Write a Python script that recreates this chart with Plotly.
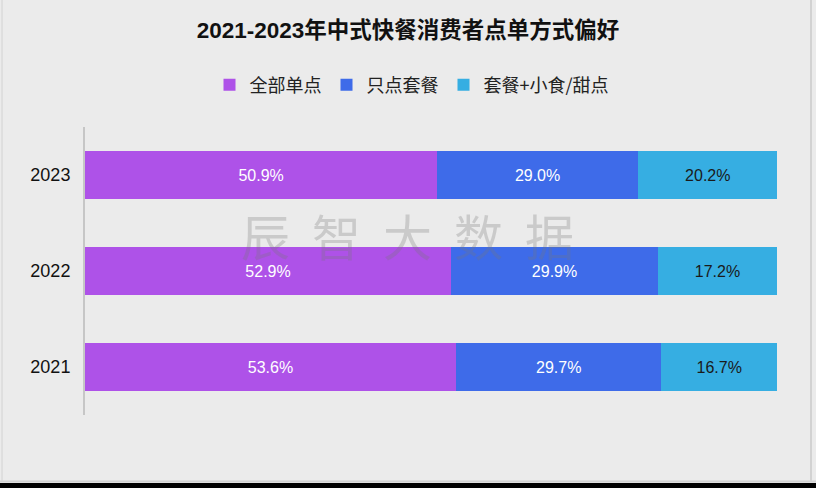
import plotly.graph_objects as go

years = ["2021", "2022", "2023"]
series_names = ["全部单点", "只点套餐", "套餐+小食/甜点"]
all_single = [53.6, 52.9, 50.9]
set_only = [29.7, 29.9, 29.0]
set_plus = [16.7, 17.2, 20.2]
colors = ["#ae52e8", "#3e6be9", "#36aee2"]
text_colors = ["#ffffff", "#ffffff", "#1a1a1a"]
watermark_chars = ["辰", "智", "大", "数", "据"]

W, H = 816, 488
L, R, T, B = 85, 39, 127, 73
ph = float(H - T - B)
pw = float(W - L - R)

def px(x):
    return (x - L) / pw

def py(y):
    return 1 - (y - T) / ph

fig = go.Figure()
for name, vals, c, tc in zip(series_names, [all_single, set_only, set_plus], colors, text_colors):
    fig.add_trace(go.Bar(
        y=years, x=vals, name=name, orientation="h",
        marker=dict(color=c, line=dict(width=0)),
        text=[f"{v:.1f}%" for v in vals], textposition="inside",
        insidetextanchor="middle",
        textfont=dict(color=tc, size=16, family="Liberation Sans, Arial, sans-serif"),
        hoverinfo="skip",
    ))

fig.update_layout(
    width=W, height=H, barmode="stack", bargap=0.5,
    paper_bgcolor="#ebebeb", plot_bgcolor="#ebebeb",
    margin=dict(l=L, r=R, t=T, b=B),
    font=dict(family="Noto Sans CJK SC, sans-serif", color="#111111"),
    title=dict(text="<b>2021-2023年中式快餐消费者点单方式偏好</b>", x=0.5, xanchor="center",
               y=1 - 30 / H, yanchor="middle",
               font=dict(size=22.5, color="#111111", family="Liberation Sans, Noto Sans CJK SC, sans-serif")),
    legend=dict(orientation="h", x=px(412), xanchor="center", y=py(85), yanchor="middle",
                font=dict(size=18, color="#222222"), itemwidth=30, traceorder="normal",
                bgcolor="rgba(0,0,0,0)"),
    xaxis=dict(range=[0, 100], visible=False, fixedrange=True),
    yaxis=dict(showline=True, linecolor="#c6c6c6", linewidth=2, ticks="", showgrid=False,
               tickfont=dict(size=18, color="#111111", family="Liberation Sans, Arial, sans-serif"),
               ticklabelstandoff=9, zeroline=False, fixedrange=True),
    showlegend=True,
)

# watermark
for i, ch in enumerate(watermark_chars):
    fig.add_annotation(text=ch, xref="paper", yref="paper", x=px(265 + 71 * i), y=py(234),
                       xanchor="center", yanchor="middle",
                       showarrow=False, font=dict(size=49, color="rgba(120,120,120,0.28)"))

# frame
fig.add_shape(type="rect", xref="paper", yref="paper", x0=px(0), x1=px(W), y0=py(H), y1=py(483),
              fillcolor="#000000", line=dict(width=0), layer="above")
fig.add_shape(type="line", xref="paper", yref="paper", x0=px(0), x1=px(W), y0=py(481.5), y1=py(481.5),
              line=dict(color="#d2d2d2", width=2), layer="above")
fig.add_shape(type="line", xref="paper", yref="paper", x0=px(811), x1=px(811), y0=py(0), y1=py(481),
              line=dict(color="#d2d2d2", width=2), layer="above")
fig.add_shape(type="line", xref="paper", yref="paper", x0=px(2), x1=px(2), y0=py(0), y1=py(481),
              line=dict(color="#d2d2d2", width=1), layer="above")

fig.write_html("out.html", config={"displayModeBar": False},
               post_script="document.body.style.margin='0';document.body.style.padding='0';")
